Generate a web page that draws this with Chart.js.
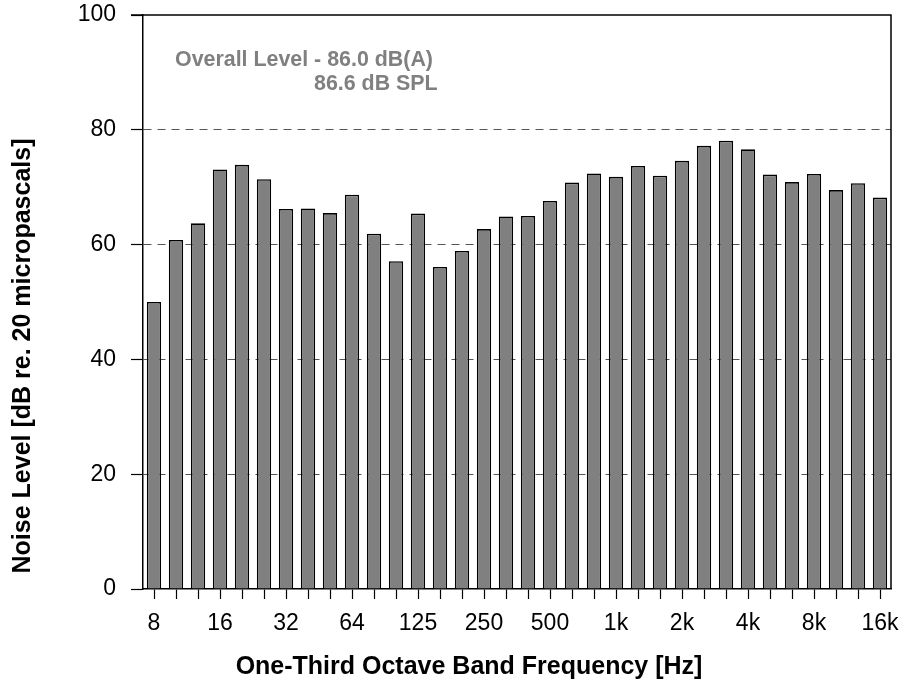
<!DOCTYPE html>
<html>
<head>
<meta charset="utf-8">
<script src="https://cdn.jsdelivr.net/npm/chart.js@4.4.1/dist/chart.umd.min.js"></script>
<style>
  html, body { margin: 0; padding: 0; background: #fff; }
  #wrap { width: 902px; height: 687px; }
</style>
</head>
<body>
<div id="wrap"><canvas id="c" width="902" height="687"></canvas></div>
<script>
// One-third octave band centre frequencies (Hz)
const bands = ['8','10','12.5','16','20','25','31.5','40','50','63','80','100','125','160','200','250','315','400','500','630','800','1k','1.25k','1.6k','2k','2.5k','3.15k','4k','5k','6.3k','8k','10k','12.5k','16k'];
// Labels shown under the axis (every third band)
const tickLabels = ['8','','','16','','','32','','','64','','','125','','','250','','','500','','','1k','','','2k','','','4k','','','8k','','','16k'];
// Measured band levels, dB re. 20 micropascals
const levels = [50.0,60.8,63.7,73.1,73.9,71.4,66.2,66.3,65.5,68.7,61.9,57.1,65.4,56.1,58.9,62.7,64.9,65.0,67.6,70.8,72.4,71.8,73.7,72.0,74.6,77.2,78.1,76.6,72.2,70.9,72.3,69.5,70.7,68.2];
// Vertical axis range and step
const yRange = { min: 0, max: 100, step: 20 };
// Overall level summary
const overallText = ['Overall Level - 86.0 dB(A)', '86.6 dB SPL'];
// Axis titles
const xTitle = 'One-Third Octave Band Frequency [Hz]';
const yTitle = 'Noise Level [dB re. 20 micropascals]';

const FONT = '"Liberation Sans", Arial, Helvetica, sans-serif';
Chart.defaults.font.family = FONT;
Chart.defaults.color = '#000';

// Top and right edges of the plot frame
const framePlugin = {
  id: 'frame',
  afterDraw(chart) {
    const { ctx, chartArea: { left, top, right, bottom } } = chart;
    ctx.save();
    ctx.strokeStyle = '#000';
    ctx.lineWidth = 1.5;
    ctx.beginPath();
    ctx.moveTo(left - 12, top);
    ctx.lineTo(right, top);
    ctx.lineTo(right, bottom);
    ctx.stroke();
    ctx.restore();
  }
};

// Overall level note in the upper left of the plot
const notePlugin = {
  id: 'note',
  afterDraw(chart) {
    const { ctx, chartArea: { left, top } } = chart;
    ctx.save();
    ctx.font = 'bold 21.4px ' + FONT;
    ctx.fillStyle = '#808080';
    ctx.textBaseline = 'alphabetic';
    ctx.fillText(overallText[0], left + 32, top + 51);
    ctx.fillText(overallText[1], left + 171, top + 75);
    ctx.restore();
  }
};

// Axis titles, placed relative to the canvas
const axisTitlePlugin = {
  id: 'axisTitles',
  afterDraw(chart) {
    const { ctx } = chart;
    ctx.save();
    ctx.fillStyle = '#000';
    ctx.font = 'bold 25px ' + FONT;
    ctx.textAlign = 'center';
    ctx.textBaseline = 'middle';
    ctx.fillText(xTitle, 469, 667);
    ctx.translate(23, 356);
    ctx.rotate(-Math.PI / 2);
    ctx.fillText(yTitle, 0, 0);
    ctx.restore();
  }
};

new Chart(document.getElementById('c'), {
  type: 'bar',
  data: {
    labels: bands,
    datasets: [{
      data: levels,
      backgroundColor: '#808080',
      borderColor: '#000',
      borderWidth: 1.6,
      barPercentage: 0.65,
      categoryPercentage: 1.0
    }]
  },
  options: {
    responsive: false,
    animation: false,
    devicePixelRatio: 1,
    layout: { padding: { top: 15, right: 11, left: 0, bottom: 0 } },
    plugins: {
      legend: { display: false },
      tooltip: { enabled: false }
    },
    scales: {
      x: {
        offset: true,
        afterFit(scale) {
          scale.height = 98;
          scale.paddingLeft = 0;
          scale.paddingRight = 0;
        },
        grid: {
          offset: false,
          drawOnChartArea: false,
          drawTicks: true,
          tickLength: 10,
          tickColor: '#000',
          tickWidth: 1.2
        },
        border: { display: true, color: '#000', width: 1.5 },
        ticks: {
          autoSkip: false,
          maxRotation: 0,
          padding: 11,
          color: '#000',
          font: { size: 23 },
          callback: (value, index) => tickLabels[index]
        }
      },
      y: {
        min: yRange.min,
        max: yRange.max,
        afterFit(scale) {
          scale.width = 143;
          scale.paddingTop = 0;
          scale.paddingBottom = 0;
        },
        grid: {
          color: (ctx) => (ctx.tick && (ctx.tick.value === yRange.min || ctx.tick.value === yRange.max)) ? 'rgba(0,0,0,0)' : '#555',
          lineWidth: 1,
          drawTicks: true,
          tickLength: 12,
          tickColor: '#000',
          tickWidth: 1.2
        },
        border: { display: true, color: '#000', width: 1.5, dash: [8, 6] },
        ticks: {
          stepSize: yRange.step,
          padding: 15,
          color: '#000',
          font: { size: 23 }
        }
      }
    }
  },
  plugins: [framePlugin, notePlugin, axisTitlePlugin]
});
</script>
</body>
</html>
